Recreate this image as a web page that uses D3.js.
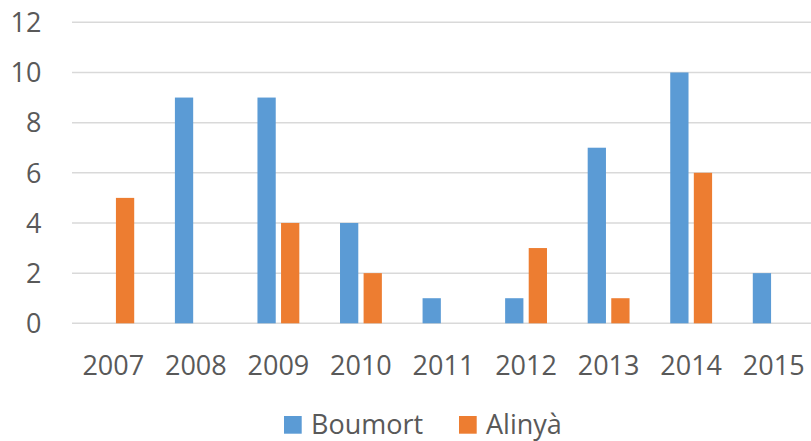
<!DOCTYPE html>
<html>
<head>
<meta charset="utf-8">
<script src="https://cdn.jsdelivr.net/npm/d3@7"></script>
<style>
  body { margin: 0; background: #fff; }
  svg text { font-family: "Open Sans", sans-serif; fill: #595959; }
</style>
</head>
<body>
<div id="chart"></div>
<script>
const years = ["2007", "2008", "2009", "2010", "2011", "2012", "2013", "2014", "2015"]
const seriesNames = ["Boumort", "Alinyà"]
const boumort = [0, 9, 9, 4, 1, 1, 7, 10, 2]
const alinya = [5, 0, 4, 2, 0, 3, 1, 6, 0]
const yTicks = [0, 2, 4, 6, 8, 10, 12]
const colors = ["#5B9BD5", "#ED7D31"]

const width = 811
const height = 441
const fontSize = 27

const svg = d3.select("#chart")
    .append("svg")
    .attr("width", width)
    .attr("height", height)

// plot area
const plotLeft = 72, plotRight = 815, plotTop = 22.3, plotBottom = 323.3

const x = d3.scaleBand()
    .domain(years)
    .range([plotLeft, plotRight])
    .paddingInner(0.493)
    .paddingOuter(0.2465)

const xInner = d3.scaleBand()
    .domain(seriesNames)
    .range([0, x.bandwidth()])
    .paddingInner(0.225)

const y = d3.scaleLinear()
    .domain([0, 12])
    .range([plotBottom, plotTop])

// gridlines
svg.append("g")
    .selectAll("line")
    .data(yTicks)
    .enter()
    .append("line")
    .attr("x1", plotLeft)
    .attr("x2", width)
    .attr("y1", d => y(d))
    .attr("y2", d => y(d))
    .style("stroke", "#D9D9D9")
    .style("stroke-width", 1.5)

// y labels
svg.append("g")
    .selectAll("text")
    .data(yTicks)
    .enter()
    .append("text")
    .attr("x", 41.5)
    .attr("y", d => y(d) + 9.8)
    .attr("text-anchor", "end")
    .style("font-size", fontSize + "px")
    .text(d => d)

// bars
const table = years.map((yr, i) => ({ year: yr, values: [boumort[i], alinya[i]] }))

const groups = svg.append("g")
    .selectAll("g")
    .data(table)
    .enter()
    .append("g")
    .attr("transform", d => "translate(" + x(d.year) + ",0)")

groups.selectAll("rect")
    .data(d => d.values.map((v, i) => ({ name: seriesNames[i], value: v, i: i })))
    .enter()
    .append("rect")
    .attr("x", d => xInner(d.name))
    .attr("width", xInner.bandwidth())
    .attr("y", d => y(d.value))
    .attr("height", d => y(0) - y(d.value))
    .attr("fill", d => colors[d.i])

// x labels
svg.append("g")
    .selectAll("text")
    .data(years)
    .enter()
    .append("text")
    .attr("x", d => x(d) + x.bandwidth() / 2)
    .attr("y", 374.5)
    .attr("text-anchor", "middle")
    .style("font-size", fontSize + "px")
    .text(d => d)

// legend (nudged up a little so the descender of "y" stays inside)
const legendX = [284, 459]
const legend = svg.append("g")
    .selectAll("g")
    .data(seriesNames)
    .enter()
    .append("g")
    .attr("transform", (d, i) => "translate(" + legendX[i] + ",416)")

legend.append("rect")
    .attr("width", 17.7)
    .attr("height", 17.7)
    .attr("fill", (d, i) => colors[i])

legend.append("text")
    .attr("x", 27)
    .attr("y", 17.8)
    .style("font-size", fontSize + "px")
    .text(d => d)
</script>
</body>
</html>
